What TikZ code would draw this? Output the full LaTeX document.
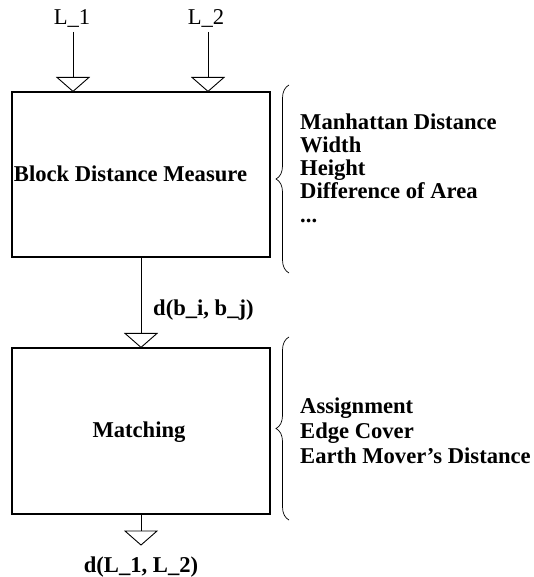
\documentclass[tikz,border=0pt]{standalone}
\usepackage{fontspec}
\setmainfont{Liberation Serif}
\usetikzlibrary{calc,decorations.pathreplacing}
\newcommand\opentri[1]{\draw[tri] ($(#1)+(-16,-14)$) -- (#1) -- ($(#1)+(16,-14)$) -- cycle;}
\begin{document}
\begin{tikzpicture}[x=1pt,y=-1pt,
  every node/.style={font=\fontsize{22.6}{24}\selectfont},
  blockbox/.style={draw, line width=1.2pt, minimum width=258pt, minimum height=165pt, inner sep=0pt},
  boxtext/.style={anchor=base, inner sep=0pt, font=\fontsize{22.6}{24}\selectfont\bfseries},
  conn/.style={line width=0.9pt},
  tri/.style={line width=0.9pt, fill=white},
  lbl/.style={anchor=base west, inner sep=0pt, font=\fontsize{22.6}{24}\selectfont\bfseries},
  brc/.style={decorate, decoration={brace, amplitude=13pt}, line width=0.7pt}]
\useasboundingbox (0,0) rectangle (533,577);
\node[blockbox] (box1) at (141,174.5) {};
\node[blockbox, minimum height=166pt] (box2) at (141,431) {};
\node[boxtext] (box1t) at (130.5,182) {Block Distance Measure};
\node[boxtext] (box2t) at (139,437) {Matching};
\node[anchor=base, inner sep=0pt] (L1) at (72,25) {L\_1};
\node[anchor=base, inner sep=0pt] (L2) at (206,25) {L\_2};
\coordinate (t1) at (73,32);
\coordinate (t2) at (208,32);
\draw[conn] (t1) -- (t1 |- box1.north) coordinate (p1);
\draw[conn] (t2) -- (t2 |- box1.north) coordinate (p2);
\opentri{p1}
\opentri{p2}
\draw[conn] (box1.south) -- (box2.north);
\opentri{box2.north}
\node[lbl] (dbb) at (153,315) {d(b\_i, b\_j)};
\coordinate (o1) at (141,545);
\draw[conn] (box2.south) -- (o1);
\opentri{o1}
\node[anchor=base, inner sep=0pt, font=\fontsize{22.6}{24}\selectfont\bfseries] (dLL) at (141,572) {d(L\_1, L\_2)};
\draw[brc] (289,273) -- (289,85);
\draw[brc] (289,520) -- (289,337);
\node[lbl] (m1) at (300,130) {Manhattan Distance};
\node[lbl] (m2) at (300,153) {Width};
\node[lbl] (m3) at (300,176) {Height};
\node[lbl] (m4) at (300,199) {Difference of Area};
\node[lbl] (m5) at (300,222) {...};
\node[lbl] (n1) at (300,413) {Assignment};
\node[lbl] (n2) at (300,438) {Edge Cover};
\node[lbl] (n3) at (300,463) {Earth Mover’s Distance};
\end{tikzpicture}
\end{document}
